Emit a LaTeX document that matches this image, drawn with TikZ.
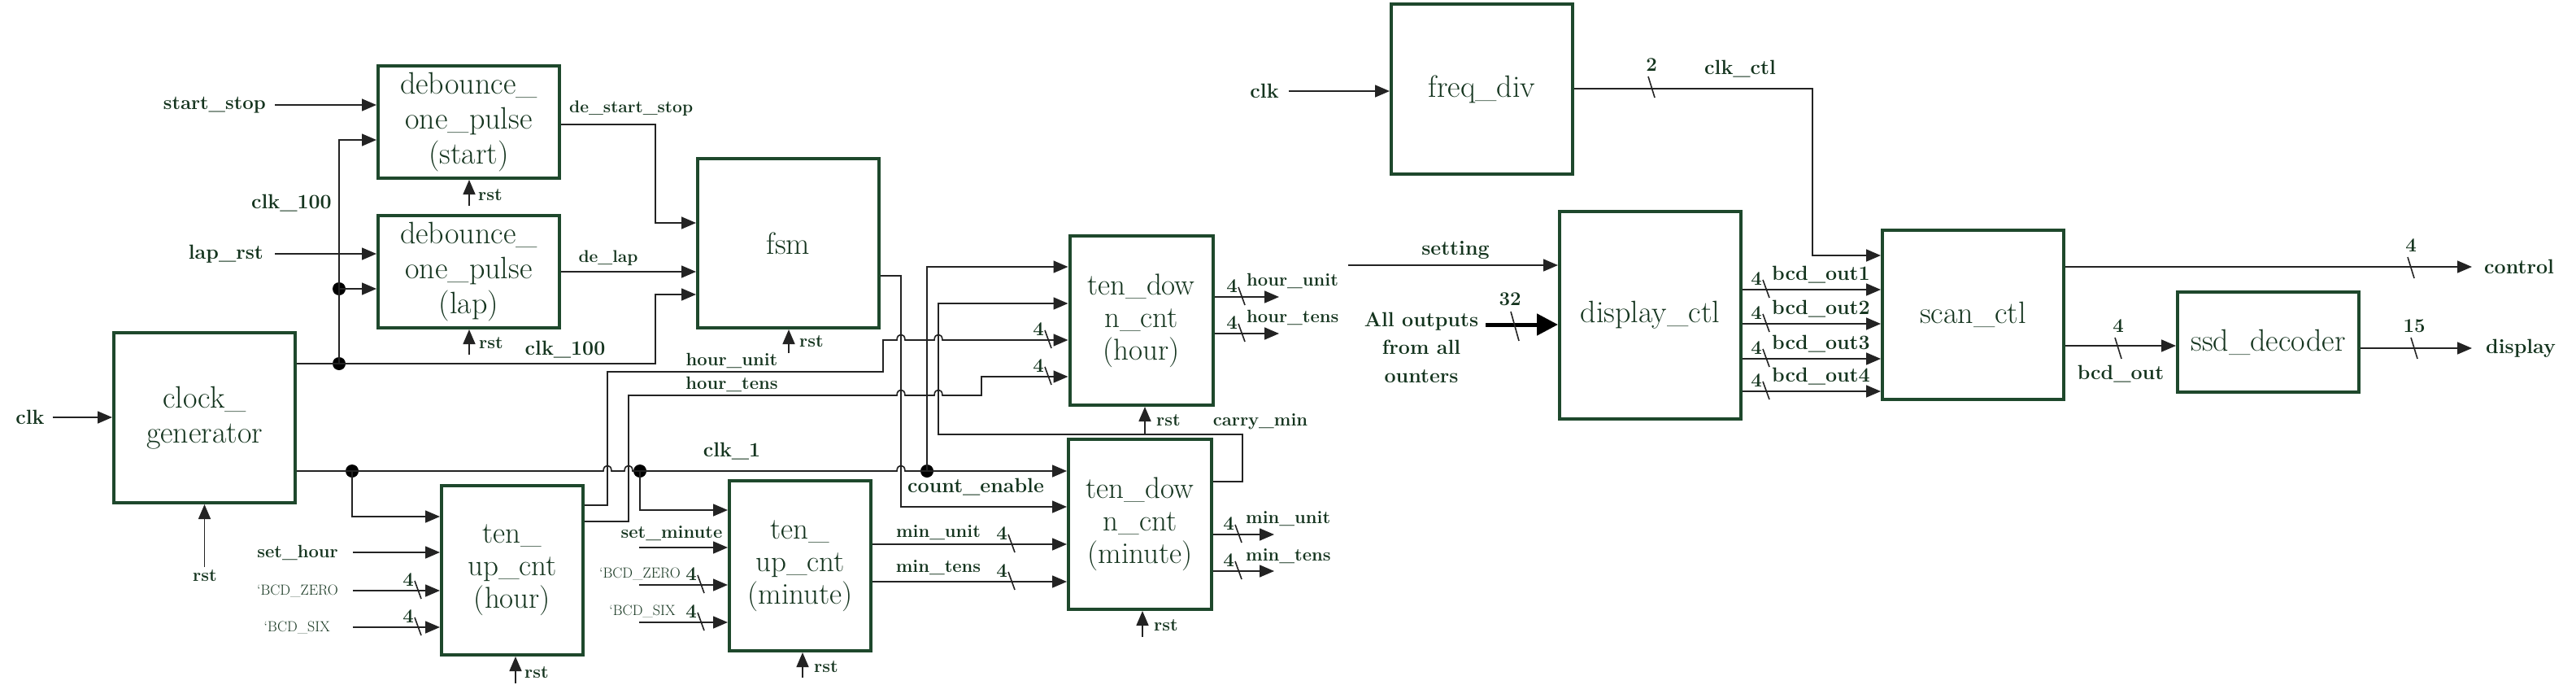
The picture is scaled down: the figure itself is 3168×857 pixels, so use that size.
\documentclass[tikz,border=0pt]{standalone}
\usetikzlibrary{arrows.meta}
\definecolor{boxg}{RGB}{30,72,44}
\definecolor{txtg}{RGB}{20,52,30}
\definecolor{wirec}{RGB}{35,35,35}
\newcommand\mybusL[4]{\draw[slash] (#1-4,#2-12) -- (#1+4,#2+10); \node[num] (#4) at (#1-12,#2-13) {#3};}
\newcommand\mybusT[4]{\draw[slash] (#1-4,#2-13) -- (#1+4,#2+13); \node[num] (#4) at (#1,#2-27) {#3};}
\begin{document}
\begin{tikzpicture}[x=1pt,y=-1pt,
  box/.style={draw=boxg, line width=4pt, text=txtg, font=\fontsize{38}{43}\selectfont, align=center, inner sep=0pt, rectangle},
  cnt/.style={box, font=\fontsize{37}{40}\selectfont},
  lbl/.style={text=txtg, font=\fontsize{22}{26}\selectfont\bfseries, inner sep=0pt},
  lbb/.style={text=txtg, font=\fontsize{25}{30}\selectfont\bfseries, inner sep=0pt},
  lbs/.style={text=txtg, font=\fontsize{18}{22}\selectfont, inner sep=0pt},
  num/.style={text=txtg, font=\fontsize{24}{28}\selectfont\bfseries, inner sep=0pt},
  wire/.style={draw=wirec, line width=1.6pt},
  arr/.style={wire, -{Triangle[length=18pt,width=15pt]}},
  dot/.style={circle, fill=black, minimum size=16pt, inner sep=0pt},
  slash/.style={draw=wirec, line width=1.6pt},
]
\fill[white] (0,0) rectangle (3168,857);
\useasboundingbox (0,0) rectangle (3168,857);

% ---------- boxes ----------
\node[box, minimum width=223pt, minimum height=138pt] (dbs) at (576.5,150) {debounce\_\\one\_pulse\\(start)};
\node[box, minimum width=223pt, minimum height=138pt] (dbl) at (576.5,334) {debounce\_\\one\_pulse\\(lap)};
\node[box, minimum width=223pt, minimum height=208pt] (fsm) at (969.5,299) {fsm};
\node[box, minimum width=223pt, minimum height=209pt] (cg) at (251.5,513.5) {clock\_\\generator};
\node[cnt, minimum width=174pt, minimum height=208pt] (uph) at (630,701) {ten\_\\up\_cnt\\(hour)};
\node[cnt, minimum width=174pt, minimum height=209pt] (upm) at (984,695.5) {ten\_\\up\_cnt\\(minute)};
\node[cnt, minimum width=176pt, minimum height=208pt] (dnh) at (1403.5,394) {ten\_dow\\n\_cnt\\(hour)};
\node[cnt, minimum width=176pt, minimum height=209pt] (dnm) at (1402,644.5) {ten\_dow\\n\_cnt\\(minute)};
\node[box, minimum width=223pt, minimum height=209pt] (fd) at (1822.5,109.5) {freq\_div};
\node[box, minimum width=223pt, minimum height=255pt] (dc) at (2029.5,387.5) {display\_ctl};
\node[box, minimum width=223pt, minimum height=208pt] (sc) at (2426.5,387) {scan\_ctl};
\node[box, minimum width=223pt, minimum height=123pt] (ssd) at (2789.5,420.5) {ssd\_decoder};

% ---------- debounce inputs ----------
\node[lbb, anchor=east, font=\fontsize{24}{28}\selectfont\bfseries] (ss) at (327,129) {start\_stop};
\draw[arr] ([xshift=11pt]ss.east) -- (ss.east -| dbs.west);
\node[lbb, anchor=east] (lr) at (324,312) {lap\_rst};
\draw[arr] ([xshift=14pt]lr.east) -- (lr.east -| dbl.west);
\node[lbb, anchor=east] (c100a) at (408,250) {clk\_100};

% clk_100 net
\node[dot] (d1) at (417,447) {};
\node[dot] (d2) at (417,355) {};
\draw[arr] (cg.east |- d1) -- (806,447) -- (806,362) -- (fsm.west |- 0,362);
\draw[arr] (d1.center) -- (417,172) -- (dbs.west |- 0,172);
\draw[arr] (d2.center) -- (dbl.west |- d2);
\node[lbb] (c100b) at (695,430) {clk\_100};

% debounce outputs
\draw[arr] (dbs.east |- 0,153) -- (806,153) -- (806,274) -- (fsm.west |- 0,274);
\node[lbl, anchor=west, font=\fontsize{21}{25}\selectfont\bfseries] (dss) at (700,133) {de\_start\_stop};
\draw[arr] (dbl.east |- 0,334) -- (fsm.west |- 0,334);
\node[lbl, font=\fontsize{21}{25}\selectfont\bfseries] (dl) at (748,317) {de\_lap};

% ---------- rst arrows ----------
\node[lbl, anchor=west] (r1) at (588,240) {rst};
\draw[arr] (577,253) -- (dbs.south -| 577,0);
\node[lbl, anchor=west] (r2) at (589,422) {rst};
\draw[arr] (577,436) -- (dbl.south -| 577,0);
\node[lbl, anchor=west] (r3) at (983,420) {rst};
\draw[arr] (970,434) -- (fsm.south -| 970,0);
\node[lbl] (r0) at (252,708) {rst};
\draw[arr] (cg.south |- 0,697) -- (cg.south);
\node[lbl, anchor=west] (r4) at (645,827) {rst};
\draw[arr] (634,840) -- (uph.south -| 634,0);
\node[lbl, anchor=west] (r5) at (1001,820) {rst};
\draw[arr] (987,833) -- (upm.south -| 987,0);
\node[lbl, anchor=west] (r6) at (1422,517) {rst};
\draw[arr] (1408,533) -- (dnh.south -| 1408,0);
\node[lbl, anchor=west] (r7) at (1419,769) {rst};
\draw[arr] (1405,783) -- (dnm.south -| 1405,0);

% ---------- clock generator ----------
\node[lbb] (clkin) at (37,513) {clk};
\draw[arr] ([xshift=10pt]clkin.east) -- (clkin.east -| cg.west);

% clk_1 net
\node[dot] (d3) at (433,579) {};
\node[dot] (d4) at (787,579) {};
\node[dot] (d5) at (1140,579) {};
\draw[arr] (cg.east |- d3) -- (742,579) .. controls (742,570) and (752,570) .. (752,579)
  -- (768,579) .. controls (768,570) and (778,570) .. (778,579)
  -- (1103,579) .. controls (1103,570) and (1113,570) .. (1113,579) -- (dnm.west |- 0,579);
\node[lbb] (c1) at (900,555) {clk\_1};
\draw[arr] (d3.center) -- (433,635) -- (uph.west |- 0,635);
\draw[arr] (d4.center) -- (787,627) -- (upm.west |- 0,627);
\draw[arr] (d5.center) -- (1140,328) -- (dnh.west |- 0,328);

% ---------- ten_up_cnt (hour) inputs ----------
\node[lbl, anchor=east] (sh) at (416,679) {set\_hour};
\draw[arr] ([xshift=18pt]sh.east) -- (sh.east -| uph.west);
\node[lbs, anchor=east] (bz1) at (416,726) {`BCD\_ZERO};
\draw[arr] ([xshift=18pt]bz1.east) -- (bz1.east -| uph.west);
\mybusL{514}{726}{4}{nb1}
\node[lbs, anchor=east] (bs1) at (406,771) {`BCD\_SIX};
\draw[arr] ([xshift=28pt]bs1.east) -- (bs1.east -| uph.west);
\mybusL{514}{771}{4}{nb2}

% ---------- ten_up_cnt (minute) inputs ----------
\node[lbl] (sm) at (826,656) {set\_minute};
\draw[arr] (786,673) -- (upm.west |- 0,673);
\node[lbs] (bz2) at (787,705) {`BCD\_ZERO};
\draw[arr] (786,719) -- (upm.west |- 0,719);
\mybusL{862}{719}{4}{nb3}
\node[lbs] (bs2) at (790,751) {`BCD\_SIX};
\draw[arr] (786,765) -- (upm.west |- 0,765);
\mybusL{862}{765}{4}{nb4}

% ---------- hour counters link ----------
\draw[arr] (uph.east |- 0,621) -- (747,621) -- (747,457) -- (1086,457) -- (1086,418)
  -- (1103,418) .. controls (1103,409) and (1113,409) .. (1113,418)
  -- (1149,418) .. controls (1149,409) and (1159,409) .. (1159,418) -- (dnh.west |- 0,418);
\node[lbl] (hu1) at (900,443) {hour\_unit};
\draw[arr] (uph.east |- 0,641) -- (773,641) -- (773,486)
  -- (1103,486) .. controls (1103,477) and (1113,477) .. (1113,486)
  -- (1149,486) .. controls (1149,477) and (1159,477) .. (1159,486)
  -- (1207,486) -- (1207,463) -- (dnh.west |- 0,463);
\node[lbl] (ht1) at (900,472) {hour\_tens};
\mybusL{1289}{418}{4}{nb5}
\mybusL{1289}{463}{4}{nb6}

% fsm -> count_enable
\draw[arr] (fsm.east |- 0,339) -- (1108,339) -- (1108,623) -- (dnm.west |- 0,623);
\node[lbb] (ce) at (1200,599) {count\_enable};

% carry_min
\draw[arr] (dnm.east |- 0,592) -- (1528,592) -- (1528,534) -- (1154,534) -- (1154,373) -- (dnh.west |- 0,373);
\node[lbl] (cm) at (1550,518) {carry\_min};

% minute counters link
\draw[arr] (upm.east |- 0,669) -- (dnm.west |- 0,669);
\node[lbl] (mu1) at (1154,655) {min\_unit};
\mybusL{1244}{669}{4}{nb7}
\draw[arr] (upm.east |- 0,715) -- (dnm.west |- 0,715);
\node[lbl] (mt1) at (1154,698) {min\_tens};
\mybusL{1244}{715}{4}{nb8}

% down counter outputs
\coordinate (ohu) at (1573,365);
\draw[arr] (dnh.east |- ohu) -- (ohu);
\node[lbl, anchor=west] (hu2) at (1533,345) {hour\_unit};
\mybusL{1527}{365}{4}{nb9}
\coordinate (oht) at (1573,410);
\draw[arr] (dnh.east |- oht) -- (oht);
\node[lbl, anchor=west] (ht2) at (1533,390) {hour\_tens};
\mybusL{1527}{410}{4}{nb10}
\coordinate (omu) at (1567,657);
\draw[arr] (dnm.east |- omu) -- (omu);
\node[lbl, anchor=west] (mu2) at (1532,638) {min\_unit};
\mybusL{1523}{657}{4}{nb11}
\coordinate (omt) at (1567,702);
\draw[arr] (dnm.east |- omt) -- (omt);
\node[lbl, anchor=west] (mt2) at (1532,684) {min\_tens};
\mybusL{1523}{702}{4}{nb12}

% ---------- right section ----------
\node[lbb] (clk2) at (1555,112) {clk};
\draw[arr] ([xshift=12pt]clk2.east) -- (clk2.east -| fd.west);
\draw[arr] (fd.east |- 0,109) -- (2229,109) -- (2229,314) -- (sc.west |- 0,314);
\mybusT{2031}{107}{2}{nb13}
\node[lbb] (cc) at (2140,85) {clk\_ctl};

\node[lbb] (st) at (1790,308) {setting};
\draw[arr] (1658,326) -- (dc.west |- 0,326);
\node[lbb, align=center, font=\fontsize{25}{34.5}\selectfont\bfseries] (ao) at (1748,427) {All outputs\\from all\\ounters};
\draw[line width=5pt, draw=black, -{Triangle[length=26pt,width=26pt]}] (1827,399) -- (dc.west |- 0,399);
\draw[slash] (1858,383) -- (1868,419);
\node[num] (n32) at (1857,368) {32};

\draw[arr] (dc.east |- 0,356) -- (sc.west |- 0,356);
\node[lbb, anchor=west] (bo1) at (2179,338) {bcd\_out1};
\mybusL{2172}{356}{4}{nb14}
\draw[arr] (dc.east |- 0,398) -- (sc.west |- 0,398);
\node[lbb, anchor=west] (bo2) at (2179,380) {bcd\_out2};
\mybusL{2172}{398}{4}{nb15}
\draw[arr] (dc.east |- 0,441) -- (sc.west |- 0,441);
\node[lbb, anchor=west] (bo3) at (2179,423) {bcd\_out3};
\mybusL{2172}{441}{4}{nb16}
\draw[arr] (dc.east |- 0,481) -- (sc.west |- 0,481);
\node[lbb, anchor=west] (bo4) at (2179,463) {bcd\_out4};
\mybusL{2172}{481}{4}{nb17}

\coordinate (octl) at (3040,328);
\draw[arr] (sc.east |- octl) -- (octl);
\node[lbb, anchor=west] (ctl) at (3055,328) {control};
\mybusT{2965}{329}{4}{nb18}

\draw[arr] (sc.east |- 0,425) -- (ssd.west |- 0,425);
\mybusT{2605}{428}{4}{nb19}
\node[lbb] (bco) at (2608,460) {bcd\_out};

\coordinate (odsp) at (3040,428);
\draw[arr] (ssd.east |- odsp) -- (odsp);
\node[lbb, anchor=west] (dsp) at (3057,428) {display};
\mybusT{2969}{428}{15}{nb20}
\end{tikzpicture}
\end{document}
